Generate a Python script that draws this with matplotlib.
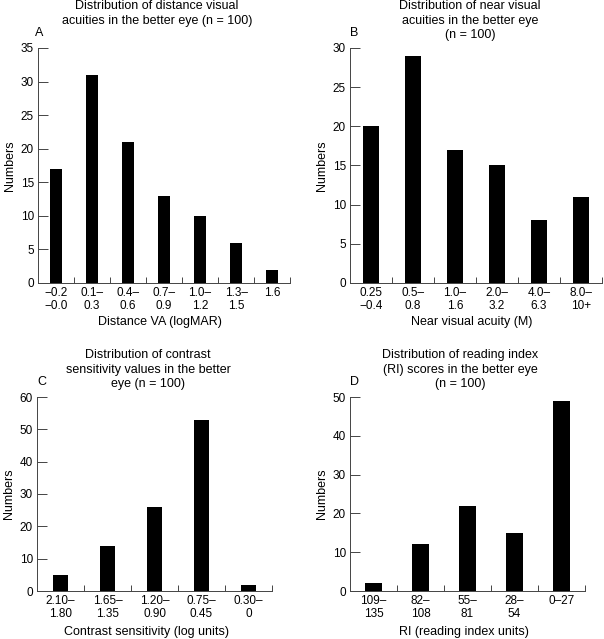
# four-panel distribution bar charts (better eye, n = 100)

import numpy as np
import matplotlib
matplotlib.use('Agg')
import matplotlib.pyplot as plt

plt.rcParams['font.family'] = ['Liberation Sans', 'DejaVu Sans']

# data
dist_labels = ['\u22120.2\n\u22120.0', '0.1\u2013\n0.3', '0.4\u2013\n0.6', '0.7\u2013\n0.9',
               '1.0\u2013\n1.2', '1.3\u2013\n1.5', '1.6']
dist_counts = [17, 31, 21, 13, 10, 6, 2]

near_labels = ['0.25\n\u22120.4', '0.5\u2013\n0.8', '1.0\u2013\n1.6', '2.0\u2013\n3.2',
               '4.0\u2013\n6.3', '8.0\u2013\n10+']
near_counts = [20, 29, 17, 15, 8, 11]

cs_labels = ['2.10\u2013\n1.80', '1.65\u2013\n1.35', '1.20\u2013\n0.90', '0.75\u2013\n0.45',
             '0.30\u2013\n0']
cs_counts = [5, 14, 26, 53, 2]

ri_labels = ['109\u2013\n135', '82\u2013\n108', '55\u2013\n81', '28\u2013\n54', '0\u201327']
ri_counts = [2, 12, 22, 15, 49]

W, H = 604, 639
fig = plt.figure(figsize=(W / 100, H / 100), dpi=100)

def ax_at(x0, y0, x1, y1):
    # pixel box -> figure fraction
    return fig.add_axes([x0 / W, 1 - y1 / H, (x1 - x0) / W, (y1 - y0) / H])

def panel(ax, labels, counts, width, ymax, ystep, title, xlabel, letter, title_y, letter_xy, xlabel_y):
    n = len(counts)
    x = np.arange(n)
    ax.bar(x, counts, width=width, color='black')
    ax.set_xlim(-0.5, n - 0.5)
    ax.set_ylim(0, ymax)
    ax.set_yticks(np.arange(0, ymax + 1, ystep))
    ax.set_xticks(x)
    ax.set_xticklabels(labels, fontsize=8.5, linespacing=1.1)
    ax.tick_params(axis='x', length=0, pad=3)
    # small inward ticks between the categories
    ax.set_xticks(np.arange(0.5, n, 1.0), minor=True)
    ax.tick_params(axis='x', which='minor', direction='in', length=4.5, width=0.7, color='#444444')
    ax.tick_params(axis='y', direction='in', length=7, width=0.7, color='#444444', labelsize=8.5, pad=3)
    for s in ['top', 'right']:
        ax.spines[s].set_visible(False)
    for s in ['left', 'bottom']:
        ax.spines[s].set_linewidth(0.7)
        ax.spines[s].set_color('#444444')
    ax.set_ylabel('Numbers', fontsize=9, labelpad=3)
    fig.text(title[1] / W, 1 - title_y / H, title[0], ha='center', va='top', fontsize=9, linespacing=1.3)
    fig.text(letter_xy[0] / W, 1 - letter_xy[1] / H, letter, ha='left', va='center', fontsize=9)
    fig.text(title[2] / W, 1 - xlabel_y / H, xlabel, ha='center', va='center', fontsize=9)

axA = ax_at(38, 48, 290, 283)
panel(axA, dist_labels, dist_counts, 0.34, 35, 5,
      ('Distribution of distance visual\nacuities in the better eye (n = 100)', 157, 160),
      'Distance VA (logMAR)', 'A', 0, (35, 33), 322)

axB = ax_at(350, 48, 602, 283)
panel(axB, near_labels, near_counts, 0.36, 30, 5,
      ('Distribution of near visual\nacuities in the better eye\n(n = 100)', 470, 472),
      'Near visual acuity (M)', 'B', 0, (350, 33), 322)

axC = ax_at(37, 397, 272, 591)
panel(axC, cs_labels, cs_counts, 0.34, 60, 10,
      ('Distribution of contrast\nsensitivity values in the better\neye (n = 100)', 148, 147),
      'Contrast sensitivity (log units)', 'C', 349, (37, 382), 632)

axD = ax_at(350, 397, 585, 591)
panel(axD, ri_labels, ri_counts, 0.35, 50, 10,
      ('Distribution of reading index\n(RI) scores in the better eye\n(n = 100)', 460, 464),
      'RI (reading index units)', 'D', 349, (350, 382), 632)

fig.savefig('out.png', dpi=100)
